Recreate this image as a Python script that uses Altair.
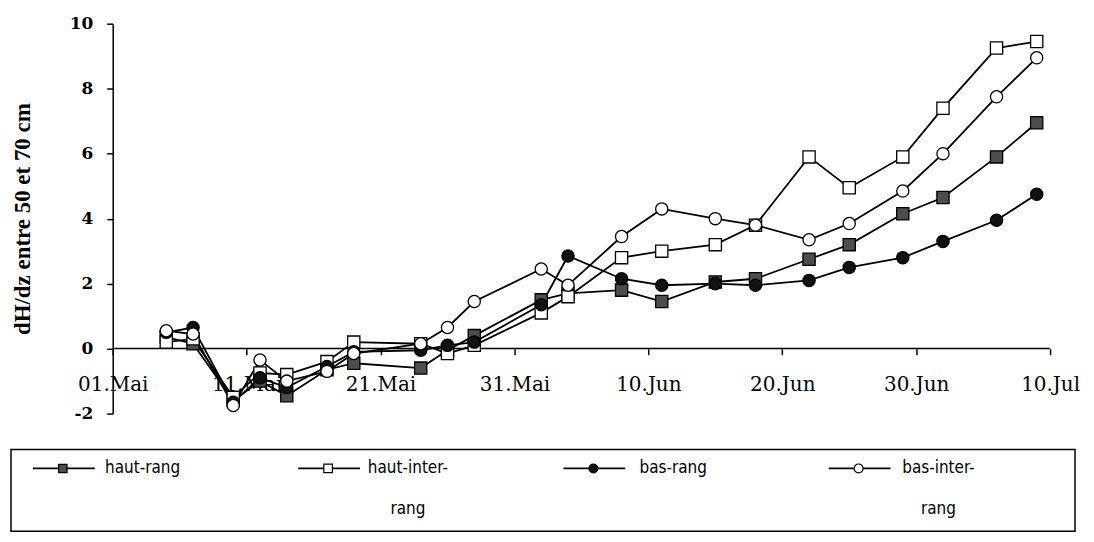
import altair as alt
import pandas as pd
from datetime import datetime, timezone

# ---------------- data ----------------
dates = ["1995-05-05", "1995-05-07", "1995-05-10", "1995-05-12", "1995-05-14",
         "1995-05-17", "1995-05-19", "1995-05-24", "1995-05-26", "1995-05-28",
         "1995-06-02", "1995-06-04", "1995-06-08", "1995-06-11", "1995-06-15",
         "1995-06-18", "1995-06-22", "1995-06-25", "1995-06-29", "1995-07-02",
         "1995-07-06", "1995-07-09"]

haut_rang = [0.35, 0.15, -1.6, -1.0, -1.45, -0.65, -0.45, -0.6, -0.05, 0.4,
             1.5, 1.7, 1.8, 1.45, 2.05, 2.15, 2.75, 3.2, 4.15, 4.65, 5.9, 6.95]
haut_inter_rang = [0.2, 0.3, -1.5, -0.75, -0.8, -0.4, 0.2, 0.15, -0.15, 0.1,
                   1.1, 1.6, 2.8, 3.0, 3.2, 3.8, 5.9, 4.95, 5.9, 7.4, 9.25, 9.45]
bas_rang = [0.5, 0.65, -1.65, -0.9, -1.2, -0.55, -0.1, -0.05, 0.1, 0.2,
            1.35, 2.85, 2.15, 1.95, 2.0, 1.95, 2.1, 2.5, 2.8, 3.3, 3.95, 4.75]
bas_inter_rang = [0.55, 0.45, -1.75, -0.35, -1.0, -0.7, -0.15, 0.15, 0.65, 1.45,
                  2.45, 1.95, 3.45, 4.3, 4.0, 3.8, 3.35, 3.85, 4.85, 6.0, 7.75, 8.95]

series_names = ["haut-rang", "haut-inter-rang", "bas-rang", "bas-inter-rang"]
legend_labels = ["haut-rang", "haut-inter-\nrang", "bas-rang", "bas-inter-\nrang"]

tick_dates = ["1995-05-01", "1995-05-11", "1995-05-21", "1995-05-31",
              "1995-06-10", "1995-06-20", "1995-06-30", "1995-07-10"]
tick_labels = ["01.Mai", "11.Mai", "21.Mai", "31.Mai",
               "10.Jun", "20.Jun", "30.Jun", "10.Jul"]
y_ticks = [-2, 0, 2, 4, 6, 8, 10]
y_title = "dH/dz entre 50 et 70 cm"

# ---------------- styles ----------------
shapes = ["square", "square", "circle", "circle"]
fills = ["#4d4d4d", "#ffffff", "#111111", "#ffffff"]
plot_sizes = [150, 150, 115, 115]
legend_sizes = [70, 80, 45, 50]
LEG_FONT = "Liberation Sans Narrow, Arial Narrow, DejaVu Sans Condensed, Roboto, sans-serif"


def ms(d):
    return int(datetime.strptime(d, "%Y-%m-%d").replace(tzinfo=timezone.utc).timestamp() * 1000)


rows = []
for name, vals in zip(series_names, [haut_rang, haut_inter_rang, bas_rang, bas_inter_rang]):
    for d, v in zip(dates, vals):
        rows.append({"date": d, "value": v, "series": name})
df = pd.DataFrame(rows)

W, H = 1067, 391
AX_L, AX_R = 102, 1042          # pixel places of the first and last date tick
t0, t1 = ms(tick_dates[0]), ms(tick_dates[-1])
k = (AX_R - AX_L) / (t1 - t0)
x_domain = [t0 - AX_L / k, t1 + (W - AX_R) / k]
y_min, y_max = y_ticks[0], y_ticks[-1]
x_axis_offset = -round(H * (0 - y_min) / (y_max - y_min))

label_expr = "''"
for d, l in reversed(list(zip(tick_dates, tick_labels))):
    label_expr = f"time(datum.value) == {ms(d)} ? '{l}' : {label_expr}"

x_axis = alt.Axis(values=[ms(d) for d in tick_dates], labelExpr=label_expr,
                  offset=x_axis_offset, domain=False, grid=False,
                  tickSize=6, tickColor="black", tickWidth=1.5,
                  labelFont="DejaVu Serif", labelFontSize=20, labelColor="black",
                  labelPadding=20, labelOverlap=False, labelFlush=False, title=None)
y_axis = alt.Axis(values=y_ticks, labelExpr="'' + datum.value", offset=-AX_L,
                  grid=False, domainColor="black", domainWidth=1.5,
                  tickSize=6, tickColor="black", tickWidth=1.5,
                  labelFont="DejaVu Serif", labelFontWeight="bold", labelFontSize=17,
                  labelColor="black", labelPadding=14, labelOverlap=False,
                  title=y_title, titleFont="Liberation Serif", titleFontSize=23,
                  titleFontWeight="bold", titleColor="black", titlePadding=35)

x_enc = alt.X("date:T", scale=alt.Scale(type="utc", domain=x_domain), axis=x_axis)
y_enc = alt.Y("value:Q", scale=alt.Scale(domain=[y_min, y_max], nice=False, zero=False), axis=y_axis)

axis_df = pd.DataFrame({"date": [tick_dates[0]], "date_end": [tick_dates[-1]], "value": [0]})
zero_rule = alt.Chart(axis_df).mark_rule(color="black", strokeWidth=1.5).encode(
    x=x_enc, x2="date_end:T", y=y_enc)

lines = alt.Chart(df).mark_line(color="black", strokeWidth=1.8).encode(
    x=x_enc, y=y_enc, detail="series:N")

points = alt.Chart(df).mark_point(filled=True, stroke="black", strokeWidth=1.3, opacity=1).encode(
    x=x_enc, y=y_enc,
    shape=alt.Shape("series:N", scale=alt.Scale(domain=series_names, range=shapes), legend=None),
    fill=alt.Fill("series:N", scale=alt.Scale(domain=series_names, range=fills), legend=None),
    size=alt.Size("series:N", scale=alt.Scale(domain=series_names, range=plot_sizes), legend=None),
)

top = alt.layer(zero_rule, lines, points).properties(width=W, height=H)

# ---------------- legend panel ----------------
leg_df = pd.DataFrame({"name": series_names, "label": legend_labels})
lx = alt.X("name:N", scale=alt.Scale(type="point", domain=series_names, range=[52, 850], padding=0),
           axis=None)

leg_line = alt.Chart(leg_df).mark_rule(color="black", strokeWidth=1.8, xOffset=-30, x2Offset=32).encode(
    x=lx, x2="name:N", y=alt.value(19))
leg_pts = alt.Chart(leg_df).mark_point(filled=True, stroke="black", strokeWidth=1.2, opacity=1).encode(
    x=lx, y=alt.value(19),
    shape=alt.Shape("name:N", scale=alt.Scale(domain=series_names, range=shapes), legend=None),
    fill=alt.Fill("name:N", scale=alt.Scale(domain=series_names, range=fills), legend=None),
    size=alt.Size("name:N", scale=alt.Scale(domain=series_names, range=legend_sizes), legend=None),
)
leg_txt = alt.Chart(leg_df).mark_text(align="center", baseline="middle", lineBreak="\n",
                                      lineHeight=41, xOffset=80, font=LEG_FONT,
                                      fontSize=17, color="black").encode(
    x=lx, y=alt.value(19), text="label:N")

legend = alt.layer(leg_line, leg_pts, leg_txt).properties(
    width=W, height=82, view=alt.ViewBackground(stroke="black", strokeWidth=1.5))

chart = alt.vconcat(top, legend, spacing=26).resolve_scale(
    x="independent", shape="independent", fill="independent", size="independent"
).properties(
    padding={"left": 2, "top": 5, "right": 5, "bottom": 0}, background="white"
).configure_view(stroke="transparent")

chart.save("out.html", embed_options={"renderer": "svg", "actions": False})
